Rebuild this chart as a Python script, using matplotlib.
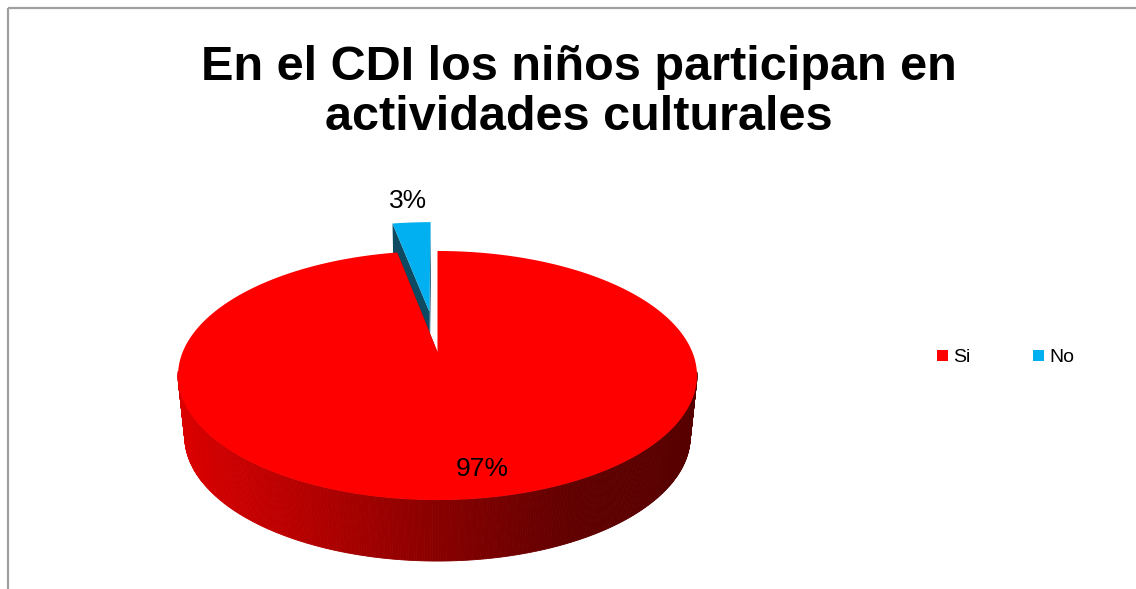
import numpy as np
import matplotlib.pyplot as plt
from matplotlib.patches import Polygon, Patch
from matplotlib.colors import LinearSegmentedColormap

categories = ['Si', 'No']
percent = [97, 3]
labels = ['97%', '3%']
colors = ['#FF0000', '#00B0F0']
wall_colors = [None, '#0E4B62']
explode = [0.0, 0.36]
title = ['En el CDI los niños participan en', 'actividades culturales']

# fake 3d pie: disc projected with a simple perspective
cx, cy = 437.5, 352.0
A, B, k = 254.8, 120.1, 0.1888
H, shrink = 61.0, 0.026
side_cmap = LinearSegmentedColormap.from_list(
    'side', ['#DC0000', '#B40000', '#880000', '#620000', '#560000'])


def proj(x, z, h=0.0):
    d = 1 + k * z
    return cx + A * x / d * (1 - shrink * h), cy - B * z / d + H * h


fig = plt.figure(figsize=(11.36, 5.89), dpi=100)
ax = fig.add_axes([0, 0, 1, 1])
ax.set_xlim(0, 1136)
ax.set_ylim(589, 0)
ax.axis('off')

# chart area border (only top and left edges are inside the picture)
ax.plot([8, 1136], [8, 8], color='#A0A0A0', lw=1.6, solid_capstyle='butt')
ax.plot([8, 8], [8, 589], color='#A0A0A0', lw=1.6, solid_capstyle='butt')

total = sum(percent)
bounds = np.concatenate([[0], np.cumsum(percent)]) / total * 360
slices = []
for i in range(len(percent)):
    t1, t2 = np.radians(bounds[i]), np.radians(bounds[i + 1])
    mid = (t1 + t2) / 2
    ex, ez = explode[i] * np.sin(mid), explode[i] * np.cos(mid)
    slices.append((t1, t2, mid, ex, ez))

# back slice first (the exploded one), then the big one in front
for i in [1, 0]:
    t1, t2, mid, ex, ez = slices[i]
    n = max(int(np.degrees(t2 - t1) * 2), 8)
    th = np.linspace(t1, t2, n)
    xs, zs = ex + np.sin(th), ez + np.cos(th)

    # outer wall, only the strips facing the viewer
    xl, xr = proj(-1, -k)[0], proj(1, -k)[0]
    for j in range(n - 1):
        if np.cos((th[j] + th[j + 1]) / 2) > -k + 0.03:
            continue
        p = [proj(xs[j], zs[j]), proj(xs[j + 1], zs[j + 1]),
             proj(xs[j + 1], zs[j + 1], 1), proj(xs[j], zs[j], 1)]
        xm = (p[0][0] + p[1][0]) / 2
        c = side_cmap(np.clip((xm - xl) / (xr - xl), 0, 1))
        if wall_colors[i] is not None:
            c = wall_colors[i]
        ax.add_patch(Polygon(p, closed=True, facecolor=c, edgecolor=c, lw=0.6))

    # radial walls
    wc = wall_colors[i] if wall_colors[i] is not None else '#7A0000'
    for t in [t1, t2]:
        p = [proj(ex, ez), proj(ex + np.sin(t), ez + np.cos(t)),
             proj(ex + np.sin(t), ez + np.cos(t), 1), proj(ex, ez, 1)]
        ax.add_patch(Polygon(p, closed=True, facecolor=wc, edgecolor='none'))

    # top face
    top = [proj(ex, ez)] + [proj(a, b) for a, b in zip(xs, zs)]
    ax.add_patch(Polygon(top, closed=True, facecolor=colors[i], edgecolor='none'))

# data labels
t1, t2, mid, ex, ez = slices[0]
ax.annotate(labels[0], proj(0.8 * np.sin(mid), 0.8 * np.cos(mid)),
            xytext=(22, -4), textcoords='offset pixels', ha='center', va='center',
            fontsize=19, family='Liberation Sans', color='black')
t1, t2, mid, ex, ez = slices[1]
ax.annotate(labels[1], proj(ex + np.sin(mid), ez + np.cos(mid)),
            xytext=(-3, 21), textcoords='offset pixels', ha='center', va='center',
            fontsize=19, family='Liberation Sans', color='black')

# title
ax.text(579, 80, title[0], ha='center', va='baseline', fontsize=35,
        fontweight='bold', family='Liberation Sans')
ax.text(579, 130, title[1], ha='center', va='baseline', fontsize=35,
        fontweight='bold', family='Liberation Sans')

handles = [Patch(facecolor=c, edgecolor='none') for c in colors]
ax.legend(handles, categories, ncol=2, loc='center left',
          bbox_to_anchor=(937 / 1136, 1 - 358 / 589), frameon=False,
          prop={'family': 'Liberation Sans', 'size': 14},
          handlelength=0.55, handleheight=0.55, handletextpad=0.3,
          columnspacing=3.2, borderpad=0, borderaxespad=0)

fig.savefig('out.png', dpi=100)
